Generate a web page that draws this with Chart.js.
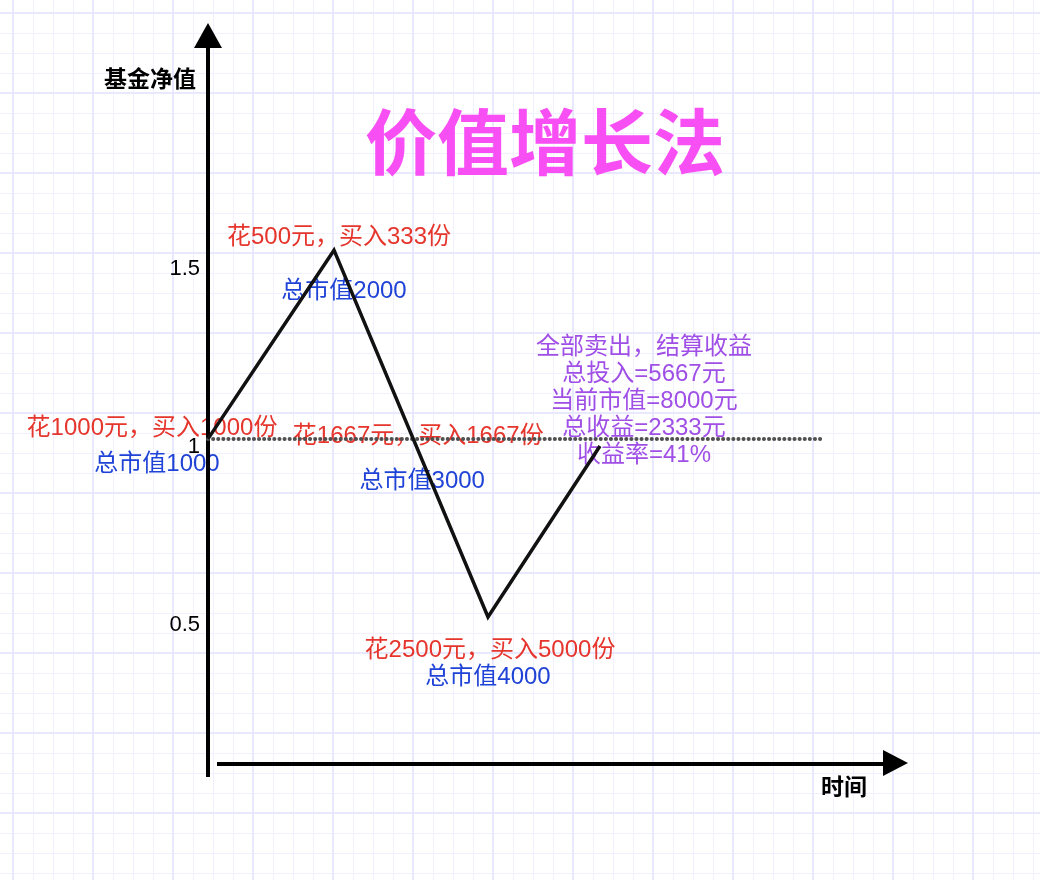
<!DOCTYPE html>
<html>
<head>
<meta charset="utf-8">
<script src="https://cdn.jsdelivr.net/npm/chart.js@4.4.1/dist/chart.umd.min.js"></script>
<style>
  html, body { margin: 0; padding: 0; }
  body {
    width: 1040px; height: 880px; overflow: hidden;
    background-color: #fff;
    background-image:
      linear-gradient(to right, #e8e8ff 2px, transparent 2px),
      linear-gradient(to bottom, #e8e8ff 2px, transparent 2px),
      linear-gradient(to right, #f0f0ff 1px, transparent 1px),
      linear-gradient(to bottom, #f0f0ff 1px, transparent 1px);
    background-size: 80px 80px, 80px 80px, 20px 20px, 20px 20px;
    background-position: 12px 12px, 12px 12px, 13px 13px, 13px 13px;
  }
  canvas { display: block; }
</style>
</head>
<body>
<canvas id="navChart" width="1040" height="880"></canvas>
<script>
// 时间点和基金净值
const time = [0, 1.8, 4.0, 5.6];
const nav = [1.0, 1.53, 0.5, 0.98];
const costNav = 1;          // 虚线: 净值 1
const costLineEnd = 8.8;
const yTicks = [0.5, 1, 1.5];

const buyText = ['花1000元，买入1000份', '花500元，买入333份', '花1667元，买入1667份', '花2500元，买入5000份'];
const valueText = ['总市值1000', '总市值2000', '总市值3000', '总市值4000'];
const summaryText = ['全部卖出，结算收益', '总投入=5667元', '当前市值=8000元', '总收益=2333元', '收益率=41%'];

const FONT = '"Liberation Sans", "Noto Sans CJK SC", sans-serif';
const RED = '#e5352c';
const BLUE = '#1f43d6';
const PURPLE = '#a04fe6';

// 第三次买入: 下跌途中穿过净值1的位置
const crossT = time[1] + (nav[1] - costNav) / (nav[1] - nav[2]) * (time[2] - time[1]);
const buyTime = [time[0], time[1], crossT, time[2]];
const buyNav = [nav[0], nav[1], costNav, nav[2]];

// 文字相对锚点的像素偏移
const buyOffset = [[-56, -11], [5, -13], [5, -3], [2, 33]];
const valueOffset = [[-51, 25], [10, 41], [9, 42], [0, 60]];

const axesAndText = {
  id: 'axesAndText',
  beforeDatasetsDraw(chart) {
    const { ctx, chartArea: a, scales: { x, y } } = chart;
    ctx.save();

    // 标注文字
    ctx.textAlign = 'center';
    ctx.textBaseline = 'middle';
    ctx.font = '24px ' + FONT;
    buyTime.forEach((t, i) => {
      const px = x.getPixelForValue(t), py = y.getPixelForValue(buyNav[i]);
      ctx.fillStyle = RED;
      ctx.fillText(buyText[i], px + buyOffset[i][0], py + buyOffset[i][1]);
      ctx.fillStyle = BLUE;
      ctx.fillText(valueText[i], px + valueOffset[i][0], py + valueOffset[i][1]);
    });
    const ex = x.getPixelForValue(time[time.length - 1]);
    const ey = y.getPixelForValue(nav[nav.length - 1]);
    ctx.fillStyle = PURPLE;
    summaryText.forEach((s, i) => ctx.fillText(s, ex + 44, ey - 99 + i * 27));

    // 标题
    ctx.fillStyle = '#f84ff5';
    ctx.font = 'bold 72px "Noto Sans CJK SC", sans-serif';
    ctx.fillText('价值增长法', 545, 142);

    // 坐标轴
    ctx.strokeStyle = '#000';
    ctx.fillStyle = '#000';
    ctx.lineWidth = 4;
    ctx.beginPath();
    ctx.moveTo(a.left, a.top + 20);
    ctx.lineTo(a.left, a.bottom + 13);
    ctx.moveTo(a.left + 9, a.bottom);
    ctx.lineTo(a.right - 20, a.bottom);
    ctx.stroke();
    ctx.beginPath();
    ctx.moveTo(a.left, a.top);
    ctx.lineTo(a.left - 14, a.top + 25);
    ctx.lineTo(a.left + 14, a.top + 25);
    ctx.closePath();
    ctx.fill();
    ctx.beginPath();
    ctx.moveTo(a.right, a.bottom - 1);
    ctx.lineTo(a.right - 25, a.bottom - 14);
    ctx.lineTo(a.right - 25, a.bottom + 12);
    ctx.closePath();
    ctx.fill();

    ctx.font = 'bold 23px "Noto Sans CJK SC", sans-serif';
    ctx.fillText('基金净值', a.left - 58, a.top + 55);
    ctx.fillText('时间', a.right - 64, a.bottom + 22);
    ctx.restore();
  }
};

new Chart(document.getElementById('navChart'), {
  type: 'line',
  data: {
    datasets: [
      {
        data: time.map((t, i) => ({ x: t, y: nav[i] })),
        borderColor: '#111',
        borderWidth: 3.5,
        borderJoinStyle: 'miter',
        pointRadius: 0,
        tension: 0,
        clip: false
      },
      {
        data: [{ x: 0, y: costNav }, { x: costLineEnd, y: costNav }],
        borderColor: '#505050',
        borderWidth: 4,
        borderDash: [0.1, 5],
        borderCapStyle: 'round',
        pointRadius: 0,
        clip: false
      }
    ]
  },
  options: {
    responsive: false,
    animation: false,
    layout: { padding: { left: 0, top: 23, right: 132, bottom: 116 } },
    plugins: { legend: { display: false }, tooltip: { enabled: false } },
    scales: {
      x: { type: 'linear', min: 0, max: 10, display: false },
      y: {
        type: 'linear',
        min: 0.087,
        max: 2.168,
        grid: { display: false, drawTicks: false },
        border: { display: false },
        afterBuildTicks: s => { s.ticks = yTicks.map(v => ({ value: v })); },
        afterFit: s => { s.width = 208; },
        ticks: {
          color: '#000',
          font: { family: FONT, size: 22 },
          padding: 8,
          labelOffset: 8,
          callback: v => String(v)
        }
      }
    }
  },
  plugins: [axesAndText]
});
</script>
</body>
</html>
